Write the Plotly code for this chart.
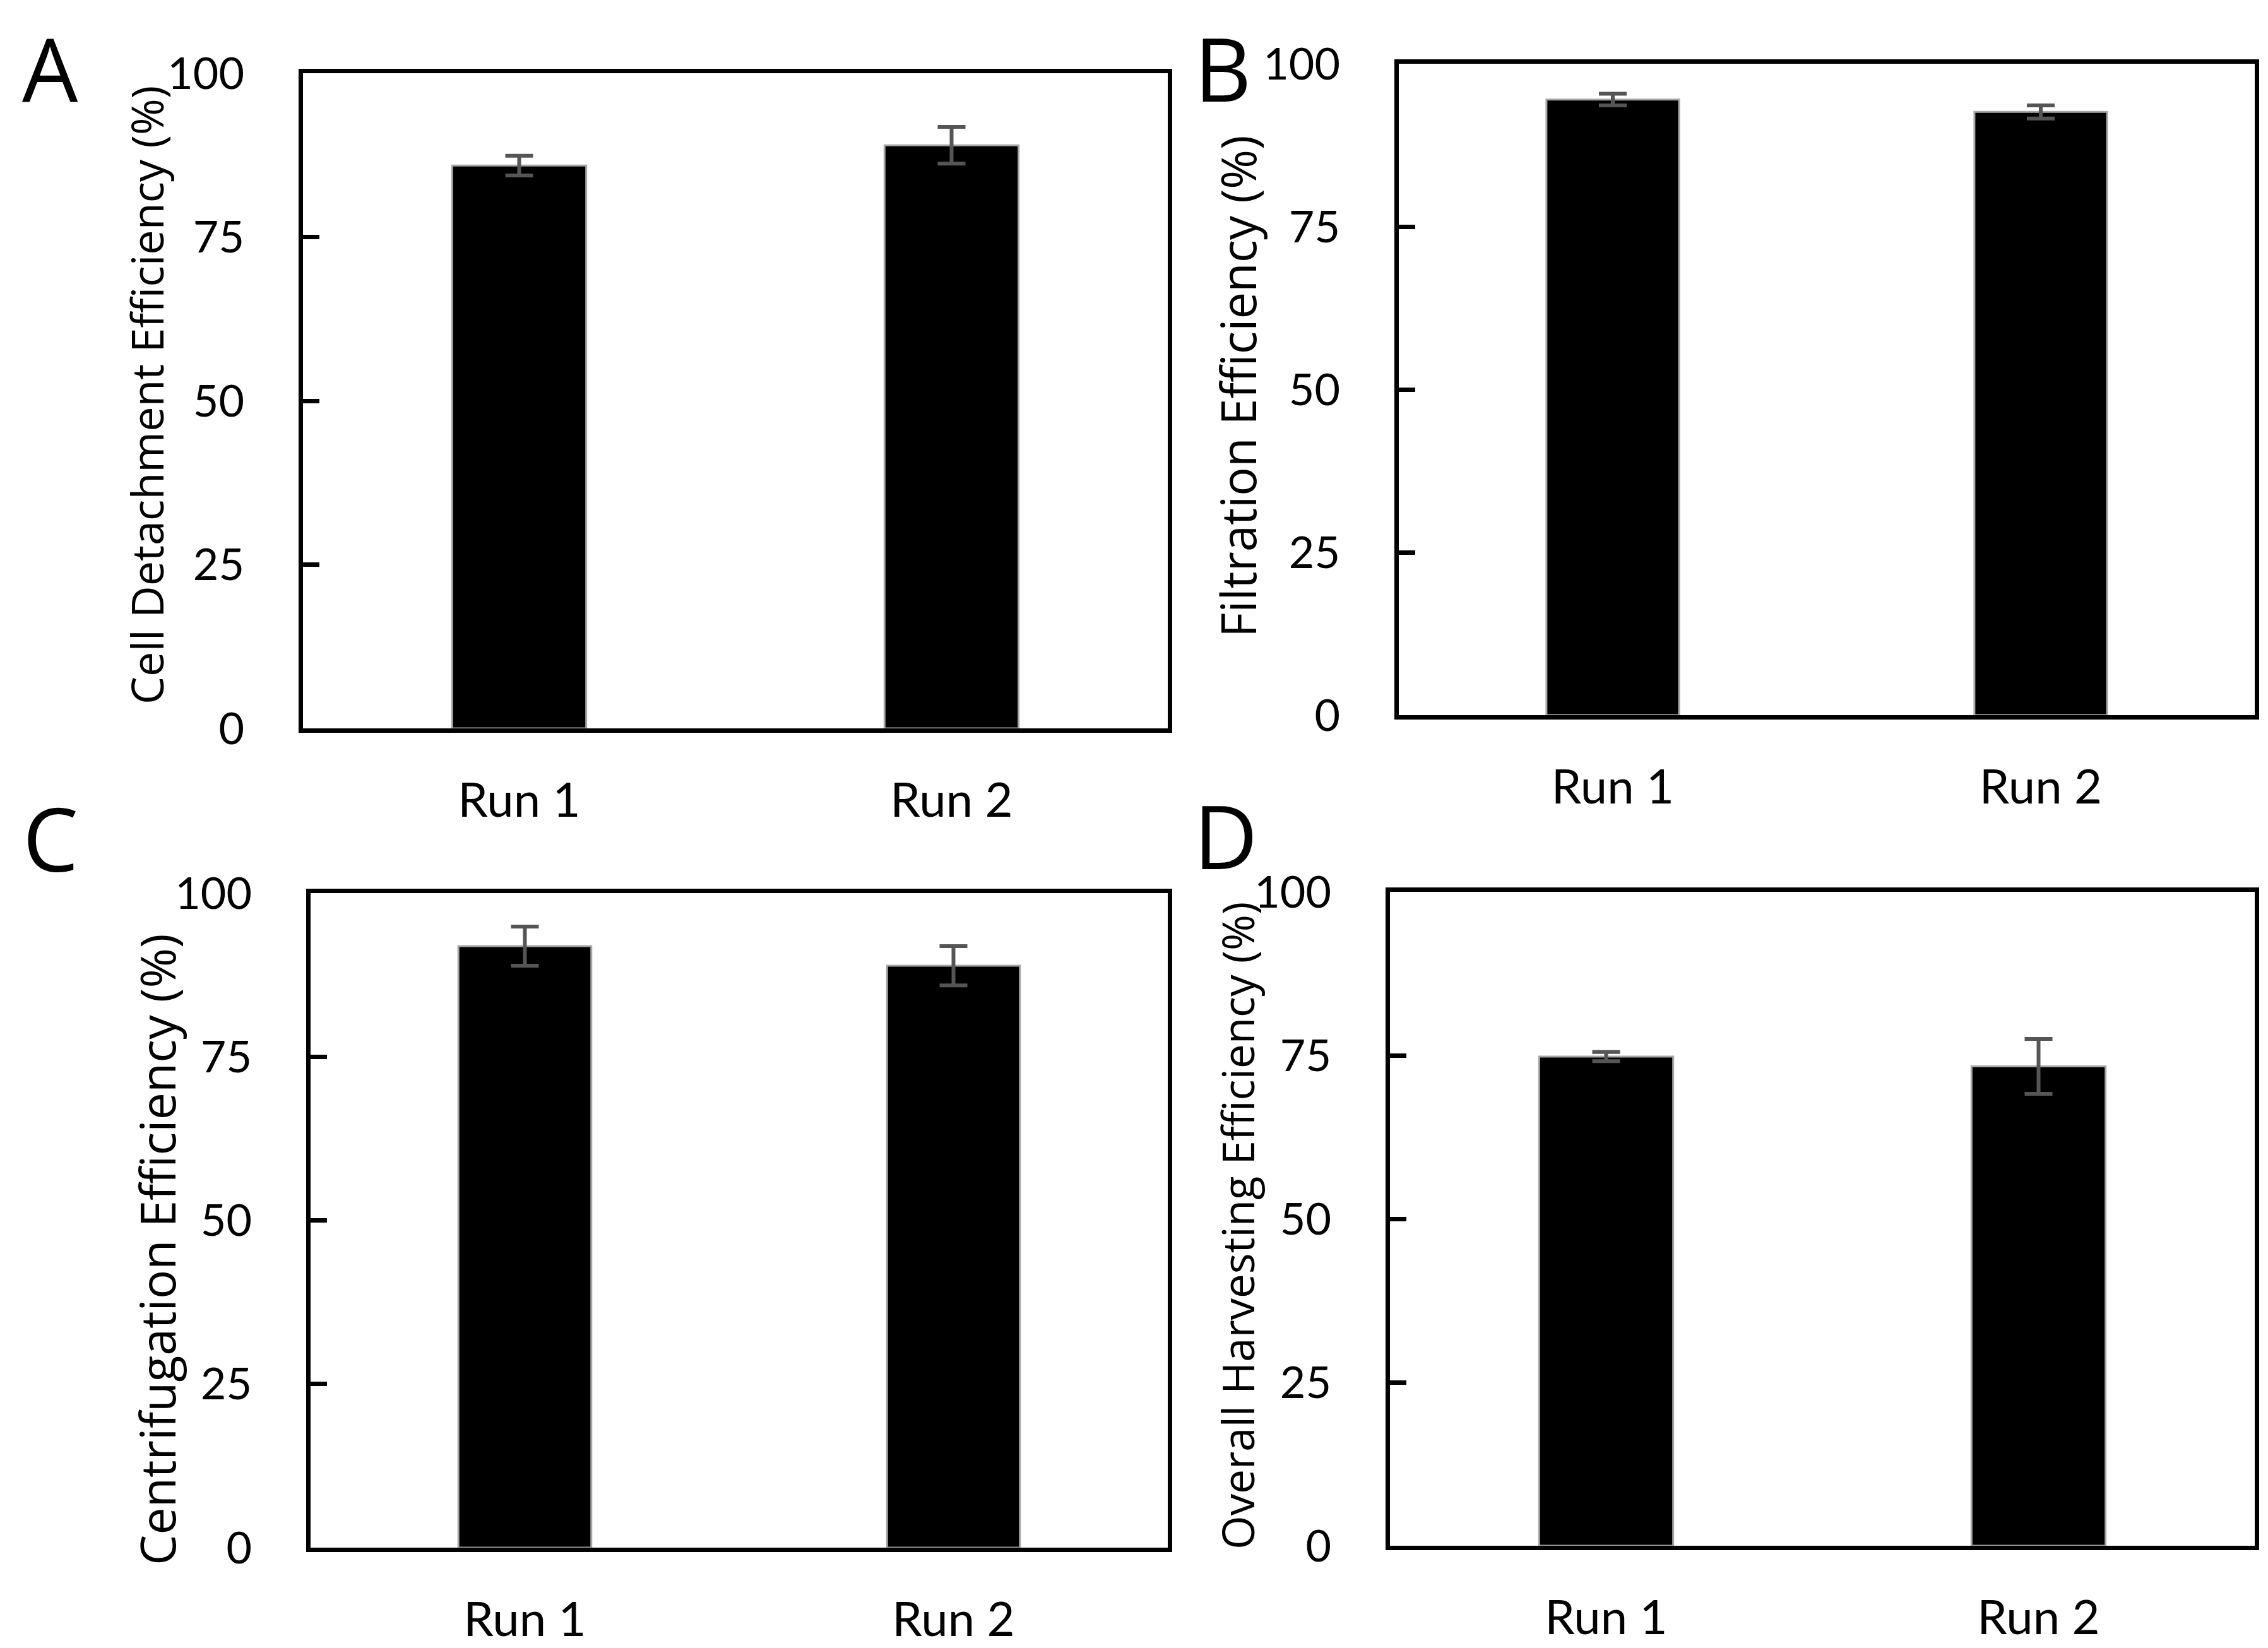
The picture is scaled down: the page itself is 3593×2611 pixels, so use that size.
import plotly.graph_objects as go

categories = ["Run 1", "Run 2"]
detach_vals = [85.9, 89.0]
detach_err = [1.5, 2.8]
filt_vals = [94.5, 92.6]
filt_err = [0.9, 1.0]
centri_vals = [91.9, 88.9]
centri_err = [3.0, 3.0]
overall_vals = [74.8, 73.3]
overall_err = [0.7, 4.2]
y_ticks = [0, 25, 50, 75, 100]

titles = ["Cell Detachment Efficiency (%)", "Filtration Efficiency (%)",
          "Centrifugation Efficiency (%)", "Overall Harvesting Efficiency (%)"]
letters = ["A", "B", "C", "D"]

W, H = 3593, 2611

def fx(px):
    return px / W

def fy(py):
    return 1 - py / H

# panel boxes in pixels: (left, right, top, bottom)
boxes = [(472, 1842, 108, 1146), (2208, 3564, 93, 1125),
         (484, 1842, 1407, 2444), (2194, 3564, 1405, 2441)]
title_pos = [(224, 618), (1952, 604), (240, 1972), (1952, 1934)]
title_size = [70, 76, 77, 69]
letter_pos = [(25, 2), (1882, 1), (26, 1221), (1881, 1217)]

data = [(detach_vals, detach_err), (filt_vals, filt_err),
        (centri_vals, centri_err), (overall_vals, overall_err)]

fig = go.Figure()
layout = dict(width=W, height=H, margin=dict(l=0, r=0, t=0, b=0, autoexpand=False),
              paper_bgcolor="white", plot_bgcolor="white", showlegend=False)

annotations = []
for i, ((vals, errs), box) in enumerate(zip(data, boxes)):
    n = "" if i == 0 else str(i + 1)
    fig.add_trace(go.Bar(
        x=categories, y=vals, width=0.31,
        marker=dict(color="black", line=dict(color="#a6a6a6", width=3)),
        error_y=dict(type="data", array=errs, visible=True, color="#555555",
                     thickness=6, width=22),
        xaxis="x" + n, yaxis="y" + n,
    ))
    l, r, t, b = box
    layout["xaxis" + n] = dict(
        domain=[fx(l), fx(r)], anchor="y" + n, showline=True, mirror=True,
        linecolor="black", linewidth=7, ticks="", showgrid=False,
        automargin=False,
        tickfont=dict(family="Lato", size=76, color="black"),
        ticklabelstandoff=42, range=[-0.5, 1.5], fixedrange=True,
    )
    layout["yaxis" + n] = dict(
        domain=[fy(b), fy(t)], anchor="x" + n, showline=True, mirror=True,
        linecolor="black", linewidth=7, ticks="inside", ticklen=26,
        tickwidth=7, tickcolor="black", showgrid=False, zeroline=False,
        automargin=False,
        range=[0, 100], tickvals=y_ticks,
        tickfont=dict(family="Lato", size=70, color="black"),
        ticklabelstandoff=72,
    )
    tx, ty = title_pos[i]
    annotations.append(dict(
        text=titles[i], x=fx(tx), y=fy(ty), xref="paper", yref="paper",
        textangle=-90, showarrow=False, xanchor="center", yanchor="middle",
        font=dict(family="Open Sans", size=title_size[i], color="black"),
    ))
    lx, ly = letter_pos[i]
    annotations.append(dict(
        text=letters[i], x=fx(lx), y=fy(ly), xref="paper", yref="paper",
        showarrow=False, xanchor="left", yanchor="top",
        font=dict(family="Open Sans", size=140, color="black"),
    ))

layout["annotations"] = annotations
fig.update_layout(**layout)
fig.write_html("out.html")
